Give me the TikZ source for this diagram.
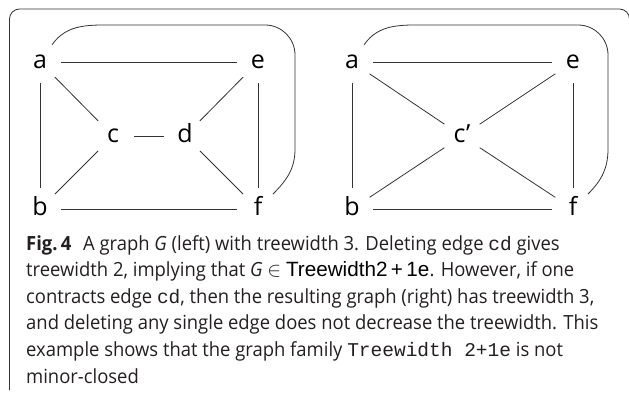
\documentclass[tikz,border=0pt]{standalone}
\usepackage{fontspec}
\setmainfont{Open Sans}
\newfontfamily\capfont[FakeStretch=0.945]{Open Sans}
\newfontfamily\cdmono{Liberation Mono}
\newfontfamily\helvfont[Scale=1.06]{Liberation Sans}
\definecolor{edgegray}{HTML}{333333}
\definecolor{captext}{HTML}{231F20}
\tikzset{
  vertex/.style={circle, minimum size=42pt, inner sep=0pt, text height=13pt, text depth=0pt, font=\fontsize{25}{28}\selectfont},
  edge/.style={draw=edgegray, line width=0.8pt}
}
\begin{document}
\begin{tikzpicture}[x=1pt, y=1pt]
            \useasboundingbox (0,0) rectangle (629,394);
            % Frame
            \draw[edgegray, line width=0.8pt, rounded corners=10pt] (9.5,4) -- (9.5,385) -- (629.5,385) -- (629.5,300);

            % Nodes (left)
            \node (a) [vertex] at (40, 332) {a};
            \node (e) [vertex] at (258, 332) {e};
            \node (c) [vertex] at (113, 258) {c};
            \node (d) [vertex] at (185, 258) {d};
            \node (b) [vertex] at (40, 185) {b};
            \node (f) [vertex] at (258, 185) {f};

            % Edges (left)
            \draw[edge] (a) -- (e);
            \draw[edge] (a) -- (b);
            \draw[edge] (a) -- (c);
            \draw[edge] (b) -- (c);
            \draw[edge] (c) -- (d);
            \draw[edge] (d) -- (e);
            \draw[edge] (d) -- (f);
            \draw[edge] (e) -- (f);
            \draw[edge] (b) -- (f);
            % round the outside
            \draw[edge] (a) to [out=55, in=180] (115, 369) -- (265, 369) to [out=0, in=90] (295, 339) -- (295, 245) to [out=-90, in=45] (f);

            % Nodes (right)
            \node (a2) [vertex] at (352, 332) {a};
            \node (e2) [vertex] at (573, 332) {e};
            \node (c2) [vertex] at (462, 258) {c'};
            \node (b2) [vertex] at (352, 185) {b};
            \node (f2) [vertex] at (573, 185) {f};

            % Edges (right)
            \draw[edge] (a2) -- (e2);
            \draw[edge] (a2) -- (b2);
            \draw[edge] (a2) -- (c2);
            \draw[edge] (b2) -- (c2);
            \draw[edge] (c2) -- (e2);
            \draw[edge] (c2) -- (f2);
            \draw[edge] (e2) -- (f2);
            \draw[edge] (b2) -- (f2);
            % round the outside
            \draw[edge] (a2) to [out=55, in=180] (428, 369) -- (578, 369) to [out=0, in=90] (608, 339) -- (608, 245) to [out=-90, in=45] (f2);

            % Caption (base is the last line)
            \node (cap) [anchor=base west, align=left, inner sep=0pt, text=captext, font=\capfont\fontsize{19.5}{26.6}\selectfont] at (26, 11)
              {\textbf{Fig.\,4}\hspace{0.6em}A graph \textit{G} (left) with treewidth 3. Deleting edge {\cdmono cd} gives\\
               treewidth 2, implying that \textit{G} $\in$ {\helvfont\color{black}Treewidth2\,+\,1e}. However, if one\\
               contracts edge {\cdmono cd}, then the resulting graph (right) has treewidth 3,\\
               and deleting any single edge does not decrease the treewidth. This\\
               example shows that the graph family {\cdmono Treewidth 2+1e} is not\\
               minor-closed};
        \end{tikzpicture}
\end{document}
